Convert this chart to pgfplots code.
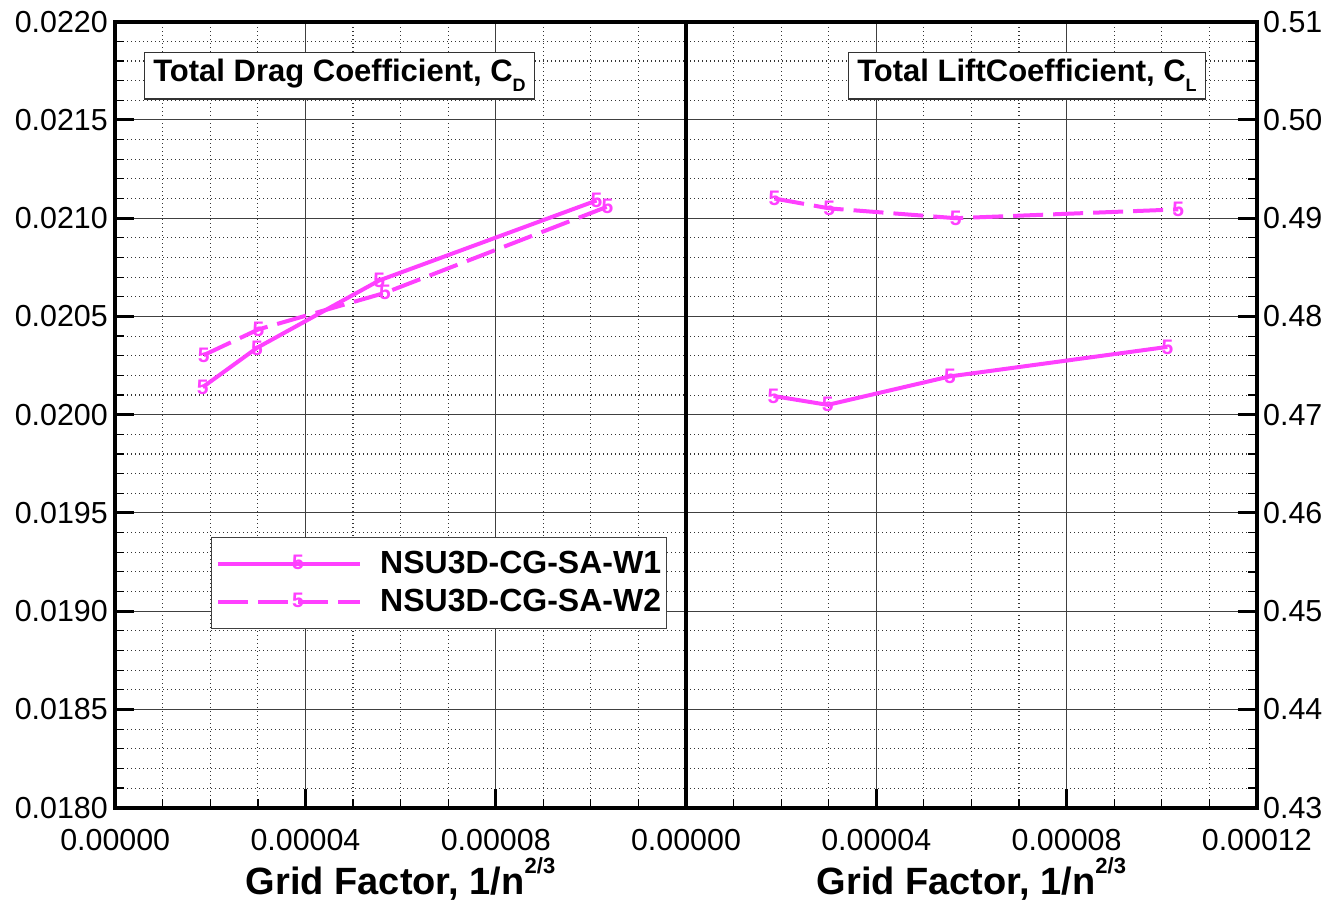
\documentclass[border=0pt]{standalone}
\usepackage{fontspec}
\setmainfont{Liberation Sans}
\usepackage{pgfplots}
\usepackage{pgfplotstable}
\pgfplotsset{compat=1.18}

\definecolor{mag}{RGB}{255,64,255}

\pgfplotstableread{
x cd cl
1.84e-5 0.020140 0.4719
2.98e-5 0.020340 0.4710
5.55e-5 0.020683 0.4739
1.012e-4 0.021090 0.4769
}\wone
\pgfplotstableread{
x cd cl
1.86e-5 0.020303 0.4920
3.01e-5 0.020434 0.4910
5.67e-5 0.020620 0.4900
1.035e-4 0.021059 0.4909
}\wtwo

\pgfplotsset{
 w1/.style={mag, line width=2pt, solid, mark=text, text mark={5}, text mark as node=true,
   text mark style={font=\bfseries\fontsize{10.5}{10.5}\selectfont, text=mag, inner sep=0pt}},
 w2/.style={w1, dash pattern=on 15pt off 5pt},
 panel/.style={
  scale only axis, width=285.4pt, height=393pt, anchor=south west,
  xmin=0, xmax=0.00012, scaled x ticks=false, scaled y ticks=false,
  minor x tick num=3, minor y tick num=4,
  grid=both,
  major grid style={draw=black!75, line width=0.5pt},
  minor grid style={draw=black!80, line width=0.55pt, dash pattern=on 0.55pt off 1.45pt},
  axis line style={line width=2pt},
  tick align=inside,
  major tick length=9.5pt, minor tick length=4.5pt,
  every major tick/.append style={line width=1.5pt, black},
  every minor tick/.append style={line width=0.6pt, black},
  ticklabel style={font=\fontsize{15.2}{18}\selectfont, inner sep=0pt},
  xticklabel style={yshift=-10.5pt},
  xtick pos=left,
  xlabel={\bfseries\fontsize{19}{22}\selectfont Grid Factor, 1/n\raisebox{10.6pt}{\fontsize{11}{11}\selectfont 2/3}},
  xlabel style={at={(axis description cs:0.5,0)}, anchor=base, yshift=-43.5pt, inner sep=0pt},
 },
}

\begin{document}
\begin{tikzpicture}
\path[use as bounding box] (0,0) rectangle (662.5pt,452pt);

\begin{axis}[panel, at={(57.6pt,48.15pt)},
  ymin=0.018, ymax=0.022,
  xtick={0,0.00004,0.00008,0.00012}, xticklabels={0.00000,0.00004,0.00008,{}},
  ytick={0.018,0.0185,0.019,0.0195,0.02,0.0205,0.021,0.0215,0.022},
  yticklabels={0.0180,0.0185,0.0190,0.0195,0.0200,0.0205,0.0210,0.0215,0.0220},
  ytick pos=left, yticklabel style={xshift=-3.5pt},
  legend style={at={(rel axis cs:0.5667,0.2860)}, anchor=center, draw=black!75, line width=0.6pt,
    fill=white, font=\bfseries\fontsize{16}{18}\selectfont, inner xsep=2.5pt, inner ysep=7pt,
    column sep=9pt, row sep=6pt, nodes={inner sep=0pt}, cells={anchor=west}},
  legend image code/.code={\draw[mark repeat=2,mark phase=2,#1] plot coordinates {(0pt,0pt) (36pt,0pt) (71pt,0pt)};},
]
\addplot[w1] table[x=x,y=cd]{\wone};
\addplot[w2] table[x=x,y=cd]{\wtwo};
\legend{NSU3D-CG-SA-W1,NSU3D-CG-SA-W2}
\node[draw=black!80, line width=0.6pt, fill=white, inner xsep=4.5pt, inner ysep=3.5pt,
  font=\bfseries\fontsize{15.5}{18}\selectfont] at (rel axis cs:0.393,0.9313)
  {Total Drag Coefficient, C\raisebox{-5pt}{\fontsize{9}{9}\selectfont D}};
\end{axis}

\begin{axis}[panel, at={(343pt,48.15pt)},
  ymin=0.43, ymax=0.51,
  xtick={0,0.00004,0.00008,0.00012}, xticklabels={0.00000,0.00004,0.00008,0.00012},
  ytick={0.43,0.44,0.45,0.46,0.47,0.48,0.49,0.50,0.51},
  yticklabels={0.43,0.44,0.45,0.46,0.47,0.48,0.49,0.50,0.51},
  ytick pos=right, yticklabel pos=right, yticklabel style={xshift=3pt},
]
\addplot[w1] table[x=x,y=cl]{\wone};
\addplot[w2] table[x=x,y=cl]{\wtwo};
\node[draw=black!80, line width=0.6pt, fill=white, inner xsep=4.5pt, inner ysep=3.5pt,
  font=\bfseries\fontsize{15.5}{18}\selectfont] at (rel axis cs:0.5974,0.9313)
  {Total LiftCoefficient, C\raisebox{-5pt}{\fontsize{9}{9}\selectfont L}};
\end{axis}
\end{tikzpicture}
\end{document}
